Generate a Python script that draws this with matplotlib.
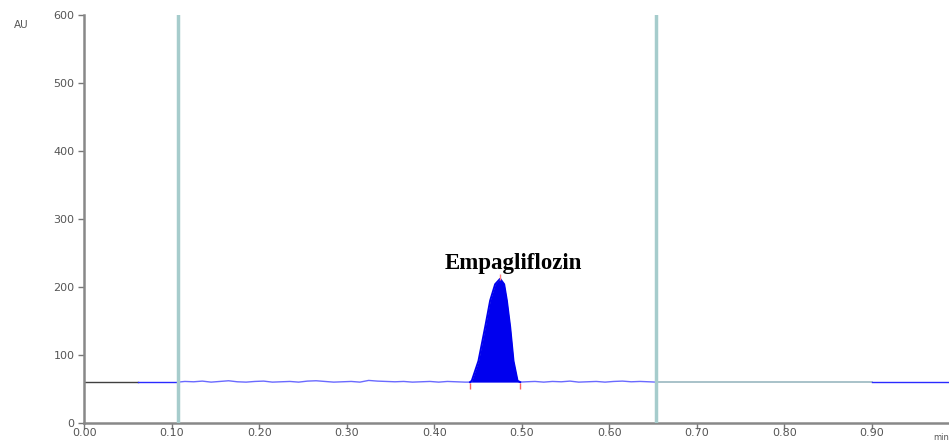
import matplotlib.pyplot as plt

# baseline level (AU) and signal pieces
baseline = 60

# noisy trace between the two markers, before the peak
noise_x = [0.107, 0.115, 0.125, 0.135, 0.145, 0.155, 0.165, 0.175, 0.185, 0.195,
           0.205, 0.215, 0.225, 0.235, 0.245, 0.255, 0.265, 0.275, 0.285, 0.295,
           0.305, 0.315, 0.325, 0.335, 0.345, 0.355, 0.365, 0.375, 0.385, 0.395,
           0.405, 0.415, 0.425, 0.435, 0.4409]
noise_y = [60, 61, 60.5, 61.5, 60, 61, 62, 60.5, 60, 61,
           61.5, 60, 60.5, 61, 60, 61.5, 62, 61, 60, 60.5,
           61, 60, 62.5, 61.5, 61, 60.5, 61, 60, 60.5, 61,
           60, 61, 60.5, 60, 60]

# the Empagliflozin peak
peak_x = [0.4409, 0.4428, 0.4504, 0.4581, 0.4638, 0.4695, 0.4752,
          0.4798, 0.4829, 0.4867, 0.4905, 0.4951, 0.4981]
peak_y = [60, 62, 91, 141, 180, 204, 212, 204, 180, 141, 91, 62, 60]

# noisy trace after the peak, up to the second marker
tail_x = [0.4981, 0.505, 0.515, 0.525, 0.535, 0.545, 0.555, 0.565, 0.575,
          0.585, 0.595, 0.605, 0.615, 0.625, 0.635, 0.645, 0.6535]
tail_y = [60, 60.5, 61, 60, 61, 60.5, 61.5, 60, 60.5, 61,
          60, 61, 61.5, 60.5, 61, 60.5, 60]

markers = [0.1072, 0.6535]
x_ticks = [0.00, 0.10, 0.20, 0.30, 0.40, 0.50, 0.60, 0.70, 0.80, 0.90]
y_ticks = [0, 100, 200, 300, 400, 500, 600]

fig = plt.figure(figsize=(9.49, 4.41), dpi=100)
ax = fig.add_axes([0.0887, 0.041, 0.9113, 0.925])

grid_col = '#a6cccc'
blue = '#2a2aff'

# flat pieces of baseline
ax.plot([0, 0.0615], [baseline, baseline], color='#404040', lw=1.0)
ax.plot([0.0615, 0.1072], [baseline, baseline], color=blue, lw=1.0)
ax.plot([0.6535, 0.90], [baseline, baseline], color='#9ab8c0', lw=1.2)
ax.plot([0.90, 0.988], [baseline, baseline], color=blue, lw=1.0)

# noisy trace and peak
ax.plot(noise_x, noise_y, color='#6a6aff', lw=1.0)
ax.plot(tail_x, tail_y, color='#6a6aff', lw=1.0)
ax.fill_between(peak_x, baseline, peak_y, color='#0000ee', lw=0)
ax.plot(peak_x, peak_y, color='#0000ee', lw=1.4)

# integration marks
ax.plot([peak_x[0], peak_x[-1]], [baseline - 5, baseline - 5], ls='none',
        marker='|', color='#ff6060', ms=5)
ax.plot([peak_x[6]], [peak_y[6] + 2], ls='none', marker='|', color='#ff8080', ms=4)

for m in markers:
    ax.axvline(m, color=grid_col, lw=2.5, zorder=3)

ax.text(0.4905, 234, 'Empagliflozin', fontsize=16.5, fontweight='bold',
        family='Liberation Serif', ha='center', va='center')

ax.set_xlim(0, 0.988)
ax.set_ylim(0, 600)
ax.set_xticks(x_ticks)
ax.set_xticklabels(['%.2f' % v for v in x_ticks])
ax.set_yticks(y_ticks)
ax.tick_params(axis='both', colors='#777777', labelcolor='#555555', labelsize=8,
               length=4, width=1)
ax.tick_params(axis='x', pad=0)
ax.tick_params(axis='y', pad=3)
for side in ['top', 'right']:
    ax.spines[side].set_visible(False)
for side in ['left', 'bottom']:
    ax.spines[side].set_color('#888888')
    ax.spines[side].set_linewidth(1.8)

fig.text(21 / 949, 1 - 25 / 441, 'AU', fontsize=7.5, color='#555555',
         ha='center', va='center')
fig.text(949 / 949, 1 - 437 / 441, 'min', fontsize=6, color='#555555',
         ha='right', va='center')

fig.savefig('out.png', dpi=100)
